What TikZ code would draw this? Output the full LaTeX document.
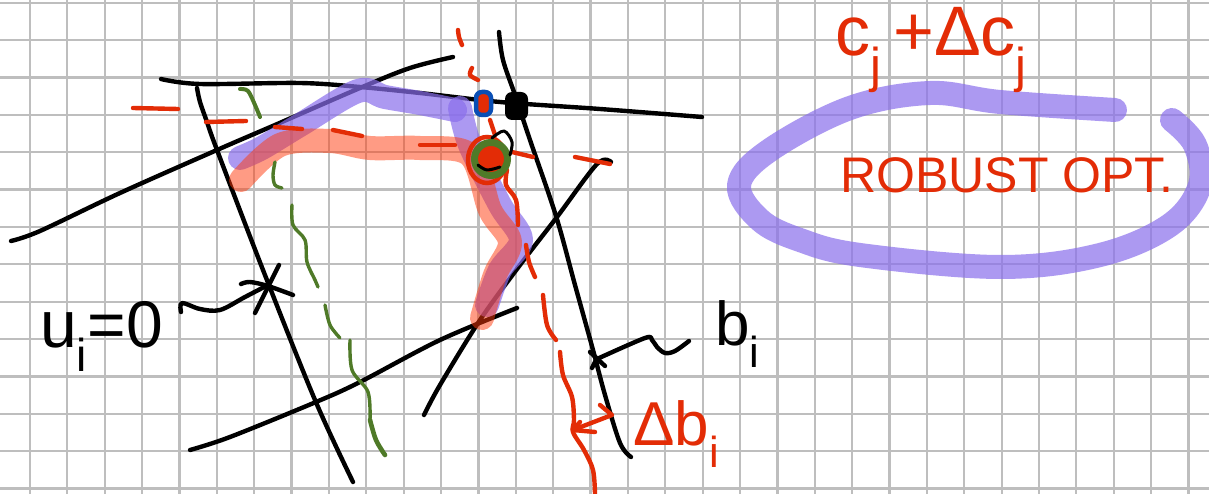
\documentclass[tikz,border=0pt]{standalone}
\usepackage{fontspec}
\setmainfont{Liberation Sans}
\definecolor{inkred}{HTML}{E32C06}
\definecolor{inkgreen}{HTML}{4F7A28}
\definecolor{inkblue}{HTML}{0A4FB5}
\definecolor{hlpurple}{HTML}{8A6FEC}
\definecolor{hlsalmon}{HTML}{FF390B}
\definecolor{gridc}{HTML}{BEBEBE}
\newcommand\handtext[1]{\fontsize{#1}{#1}\selectfont}
\tikzset{
  blk/.style={draw=black,line width=4.4pt,line cap=round,line join=round},
  redpen/.style={draw=inkred,line width=4.4pt,line cap=round,line join=round},
  greenpen/.style={draw=inkgreen,line width=3.4pt,line cap=round,line join=round},
  purplehl/.style={draw=hlpurple,draw opacity=.7,line width=24pt,line cap=round,line join=round},
  salmonhl/.style={draw=hlsalmon,draw opacity=.5,line width=24pt,line cap=round,line join=round},
  gridline/.style={draw=gridc,line width=2.2pt},
  redlabel/.style={text=inkred,anchor=base west,inner sep=0pt},
  blacklabel/.style={text=black,anchor=base west,inner sep=0pt},
  sm/.style={smooth,tension=.55}
}
\begin{document}
\begin{tikzpicture}[x=1pt,y=-1pt]
\useasboundingbox (0,0) rectangle (1209,494);
\fill[white] (0,0) rectangle (1209,494);
\begin{scope}
\clip (0,0) rectangle (1209,494);
% grid
\foreach \k in {0,...,32} \draw[gridline] ({30+37.37*\k},0) -- ({30+37.37*\k},494);
\foreach \k in {0,...,13} \draw[gridline] (0,{2.7+37.37*\k}) -- (1209,{2.7+37.37*\k});
% black lines
\draw[blk] plot[sm] coordinates {(161,79)(200,84)(300,83)(360,87)(420,93)(500,102)(600,109)(702,117)};
\draw[blk] plot[sm] coordinates {(11,241)(40,231)(120,193)(217,150)(275,125)(360,88)(410,68)(453,57)};
\draw[blk] plot[sm] coordinates {(197,88)(200,102)(207,122)(217,150)(263,270)(315,400)(353,482)};
\draw[blk] plot[sm] coordinates {(499,32)(503,60)(515,95)(530,140)(556,216)(575,285)(593,350)(605,395)(620,443)(631,457)};
\draw[blk] plot[sm] coordinates {(424,415)(440,385)(480,320)(520,265)(557,217)(597,164)(611,162)};
\draw[blk] plot[sm] coordinates {(190,450)(230,437)(316,402)(360,382)(440,340)(517,308)};
% u_i pointer and cross
\draw[blk] plot[sm] coordinates {(181,312)(182,303)(200,309)(220,310)(245,297)(268,285)};
\draw[blk] plot[sm] coordinates {(241,284)(250,282)(268,286)(293,295)};
\draw[blk] (255,313) -- (279,265);
% b_i pointer and cross
\draw[blk] plot[sm] coordinates {(689,341)(675,351)(665,353)(657,347)(652,340)(645,338)(597,359)};
\draw[blk] (590,352) -- (605,366);
\draw[blk] (592,368) -- (597,358);
% highlighter
\draw[purplehl] plot[sm] coordinates {(240,158)(262,148)(300,125)(358,91)(385,97)(420,103)(455,110)};
\draw[purplehl] plot[sm] coordinates {(460,108)(470,145)(500,205)(521,240)(500,270)(487,305)};
\draw[salmonhl] plot[sm] coordinates {(241,180)(280,145)(330,141)(370,148)(420,148)(470,155)(490,210)(510,242)(495,275)(482,318)};
\draw[purplehl] plot[smooth,tension=.6] coordinates {(1115,110)(1000,102)(930,93)(850,108)(770,150)(739,185)(760,220)(800,240)(860,255)(1000,267)(1100,255)(1170,225)(1200,185)(1195,145)(1172,120)};
% red dashed offsets
\draw[redpen] (133,108) -- (178,109);
\draw[redpen] (206,122) -- (246,121);
\draw[redpen] (275,127) -- (302,129);
\draw[redpen] (333,130) -- (362,136);
\draw[redpen] (420,145) -- (455,145);
\draw[redpen] (512,152) -- (533,157);
\draw[redpen] (575,157) -- (610,164);
\draw[redpen] plot[sm] coordinates {(458,30)(459,37)(462,45)};
\draw[redpen] plot[sm] coordinates {(472,68)(470,75)(478,80)};
\draw[redpen] (490,120) -- (495,135);
\draw[redpen] plot[sm] coordinates {(507,170)(506,185)(516,200)(518,225)};
\draw[redpen] plot[sm] coordinates {(526,245)(529,262)(535,277)};
\draw[redpen] plot[sm] coordinates {(543,295)(547,325)(556,340)};
\draw[redpen] plot[sm] coordinates {(560,352)(563,375)(572,397)(574,420)(573,432)(584,450)(593,470)(595,494)};
\draw[redpen] (573,430) -- (612,415) -- (600,405);
\draw[redpen] (573,430) -- (580,422);
\draw[redpen] (573,430) -- (595,432);
% green dashed
\draw[greenpen,line width=4pt] plot[sm] coordinates {(240,89)(248,91)(255,105)(260,117)};
\draw[greenpen] plot[sm] coordinates {(275,162)(273,175)(275,185)(282,188)};
\draw[greenpen] plot[sm] coordinates {(292,205)(293,225)(305,240)(307,262)(315,280)(318,287)};
\draw[greenpen] plot[sm] coordinates {(325,305)(330,325)(340,338)};
\draw[greenpen] plot[sm] coordinates {(350,340)(352,370)(368,392)(370,420)};
\draw[greenpen,line width=4.6pt] plot[sm] coordinates {(370,420)(376,440)(385,455)};
% vertices
\fill[black,rounded corners=7pt] (505,92) rectangle (528,120);
\draw[inkblue,line width=4.5pt,fill=inkred,rounded corners=6pt] (476,92) rectangle (491,115);
\draw[inkred,line width=4.5pt] (487,160) ellipse [x radius=19,y radius=23];
\fill[inkred] (489,159) circle (17);
\draw[inkgreen,line width=7pt] (491,159) circle (16.5);
\draw[blk,line width=3pt] plot[sm] coordinates {(492,138)(504,131)(512,142)(510,155)};
\draw[blk,line width=3pt] plot[sm] coordinates {(478,165)(487,170)(500,167)};
\end{scope}
% labels
\node[blacklabel] (ulabel) at (40,347) {\handtext{66}u\textsubscript{i}=0};
\node[blacklabel] (blabel) at (715,345) {\handtext{62}b\textsubscript{i}};
\node[redlabel] (dblabel) at (633,445) {\handtext{62}Δb\textsubscript{i}};
\node[redlabel] (clabel) at (835,56) {\handtext{70}c\textsubscript{j}\,+Δc\textsubscript{j}};
\node[redlabel] (robust) at (840,193) {\handtext{50}ROBUST OPT.};
\end{tikzpicture}
\end{document}
